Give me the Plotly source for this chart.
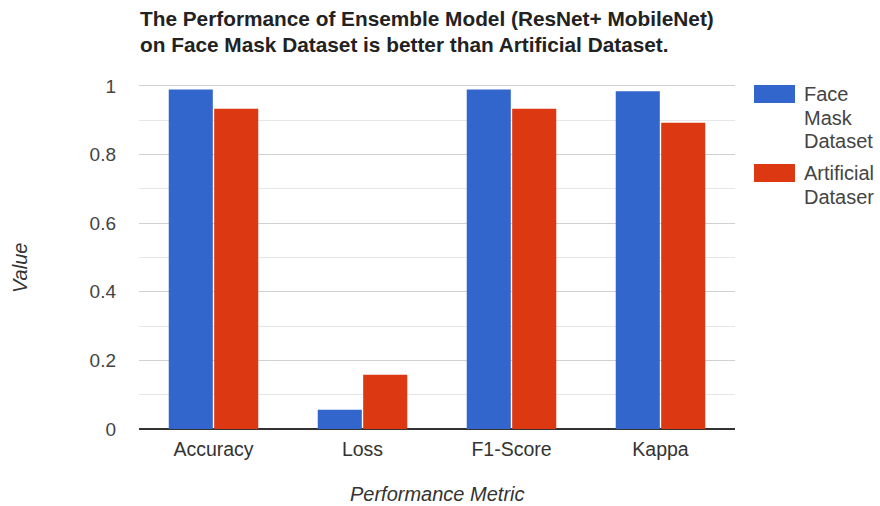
import plotly.graph_objects as go

metrics = ["Accuracy", "Loss", "F1-Score", "Kappa"]
face_mask = [0.99, 0.056, 0.99, 0.985]
artificial = [0.934, 0.158, 0.934, 0.893]
series_names = ["Face<br>Mask<br>Dataset", "Artificial<br>Dataser"]
series_colors = ["#3366CC", "#DC3912"]
y_ticks = [0, 0.2, 0.4, 0.6, 0.8, 1]
y_tick_text = ["0", "0.2", "0.4", "0.6", "0.8", "1"]
title_lines = [
    "The Performance of Ensemble Model (ResNet+ MobileNet)",
    "on Face Mask Dataset is better than Artificial Dataset.",
]

FONT = "Liberation Sans, Arial, sans-serif"
W, H = 880, 506
M_L, M_R, M_T, M_B = 139, 145, 77, 77
PW, PH = W - M_L - M_R, H - M_T - M_B


def px(p):
    """pixel column -> paper x"""
    return (p - M_L) / PW


def py(p):
    """pixel row -> paper y"""
    return (H - M_B - p) / PH


fig = go.Figure()
for name, vals, col in zip(series_names, [face_mask, artificial], series_colors):
    fig.add_trace(go.Bar(x=metrics, y=vals, name=name,
                         marker=dict(color=col, line=dict(width=0)),
                         showlegend=False))

annotations = []
# two-line bold title, left aligned
for i, line in enumerate(title_lines):
    annotations.append(dict(
        text=f"<b>{line}</b>", xref="paper", yref="paper",
        x=px(138), xanchor="left", y=py(19 + 25 * i), yanchor="middle",
        showarrow=False, font=dict(size=20.8, color="#222222", family=FONT),
    ))

# axis titles
annotations.append(dict(
    text="<i>Performance Metric</i>", xref="paper", yref="paper",
    x=px(437), xanchor="center", y=py(494), yanchor="middle",
    showarrow=False, font=dict(size=20, color="#333333", family=FONT),
))
annotations.append(dict(
    text="<i>Value</i>", xref="paper", yref="paper", textangle=-90,
    x=px(20), xanchor="center", y=py(268), yanchor="middle",
    showarrow=False, font=dict(size=20, color="#333333", family=FONT),
))

# legend: swatches plus line-by-line labels
shapes = []
swatch_tops = [85, 164]
for name, col, top in zip(series_names, series_colors, swatch_tops):
    shapes.append(dict(
        type="rect", xref="paper", yref="paper", line=dict(width=0), fillcolor=col,
        x0=px(754), x1=px(795), y0=py(top), y1=py(top + 18),
    ))
    for j, part in enumerate(name.split("<br>")):
        annotations.append(dict(
            text=part, xref="paper", yref="paper",
            x=px(802), xanchor="left", y=py(top + 9 + 23.5 * j), yanchor="middle",
            showarrow=False, font=dict(size=20, color="#444444", family=FONT),
        ))

fig.update_layout(
    width=W, height=H,
    margin=dict(l=M_L, r=M_R, t=M_T, b=M_B, autoexpand=False),
    paper_bgcolor="white", plot_bgcolor="white",
    barmode="group", bargap=0.39, bargroupgap=0.03,
    font=dict(family=FONT, color="#444444"),
    annotations=annotations, shapes=shapes,
    showlegend=False,
)

fig.update_xaxes(
    tickfont=dict(size=19.5, color="#333333"),
    showgrid=False, showline=False, ticks="", automargin=False,
    ticklabelstandoff=6,
)
fig.update_yaxes(
    range=[0, 1.0262], tickvals=y_ticks, ticktext=y_tick_text,
    tickfont=dict(size=19, color="#444444"),
    showgrid=True, gridcolor="#D0D0D0", gridwidth=1,
    minor=dict(dtick=0.1, showgrid=True, gridcolor="#E6E6E6"),
    zeroline=True, zerolinecolor="#333333", zerolinewidth=1.5,
    ticks="", ticklabelstandoff=22, automargin=False,
)

fig.write_html("out.html")
